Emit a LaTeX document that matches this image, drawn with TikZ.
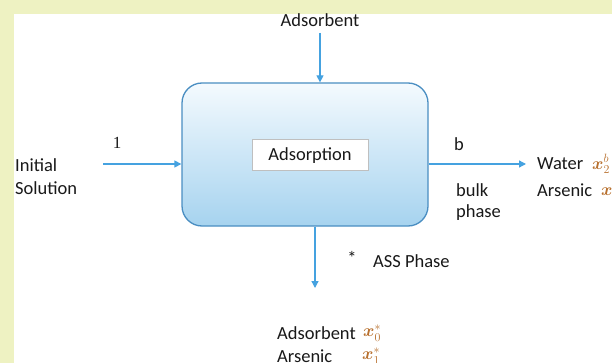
\documentclass[tikz,border=0pt]{standalone}
\usepackage{amsmath}
\usepackage{fontspec}
\setmainfont{Carlito}
\newfontfamily\serifone{Liberation Serif}
\usetikzlibrary{arrows.meta}
\definecolor{bgyel}{HTML}{EEF2C2}
\definecolor{flow}{HTML}{45A2E0}
\definecolor{boxedge}{HTML}{4A8EC2}
\definecolor{boxtop}{HTML}{F4FAFE}
\definecolor{boxbot}{HTML}{A6D3EF}
\definecolor{mathx}{HTML}{B8702E}
\tikzset{
  lbl/.style={font=\fontsize{18.5}{22}\selectfont, text=black!90, inner sep=0pt},
  mx/.style={font=\fontsize{18}{22}\selectfont, text=mathx, inner sep=0pt},
  flowarrow/.style={draw=flow, line width=1.3pt, -{Triangle[length=7pt,width=7pt]}},
  mainbox/.style={draw=boxedge, line width=1.3pt, rounded corners=20pt, top color=boxtop, bottom color=boxbot, minimum width=246pt, minimum height=143pt},
  innerbox/.style={draw=black!25, fill=white, line width=1pt, minimum width=116pt, minimum height=31pt, font=\fontsize{18.5}{22}\selectfont, text=black!90}
}
\begin{document}
\begin{tikzpicture}[x=1pt,y=1pt]
\useasboundingbox (0,0) rectangle (612,-363);
\fill[bgyel] (0,0) rectangle (612,-363);
\fill[white] (14,-14) rectangle (612,-363);

\node[mainbox] (box) at (305,-154.5) {};
\node[innerbox] (ads) at (310,-155.5) {Adsorption};

\node[lbl] (topads) at (320,-20) {Adsorbent};
\draw[flowarrow] (topads.south |- 0,-33) -- (topads.south |- box.north);

\node[lbl, anchor=west] (init) at (15,-165) {Initial};
\node[lbl, anchor=west] (sol) at (15,-188) {Solution};
\node[lbl, font=\serifone\fontsize{17}{20}\selectfont] (one) at (117,-143) {1};
\coordinate (lin) at (103,-164);
\draw[flowarrow] (lin) -- (lin -| box.west);

\node[lbl] (bb) at (459,-144) {b};
\node[lbl, anchor=west] (bulk) at (456,-190) {bulk};
\node[lbl, anchor=west] (phase) at (456,-213) {phase};
\coordinate (rout) at (526,-164);
\draw[flowarrow] (box.east |- rout) -- (rout);

\node[lbl, anchor=west] (water) at (537,-164) {Water};
\node[mx, anchor=west] (xw) at (592,-164) {$\boldsymbol{x}^{b}_{2}$};
\node[lbl, anchor=west] (ars1) at (537,-190) {Arsenic};
\node[mx, anchor=west] (xa) at (601,-190) {$\boldsymbol{x}^{b}_{1}$};

\coordinate (dout) at (315,-288);
\draw[flowarrow] (box.south -| dout) -- (dout);
\node[lbl] (star) at (352,-258) {*};
\node[lbl, anchor=west] (ass) at (373,-261) {ASS Phase};

\node[lbl, anchor=west] (ads2) at (277,-333) {Adsorbent};
\node[mx, anchor=west] (x0) at (363,-333) {$\boldsymbol{x}^{*}_{0}$};
\node[lbl, anchor=west] (ars2) at (277,-356) {Arsenic};
\node[mx, anchor=west] (x1) at (362,-356) {$\boldsymbol{x}^{*}_{1}$};
\end{tikzpicture}
\end{document}
